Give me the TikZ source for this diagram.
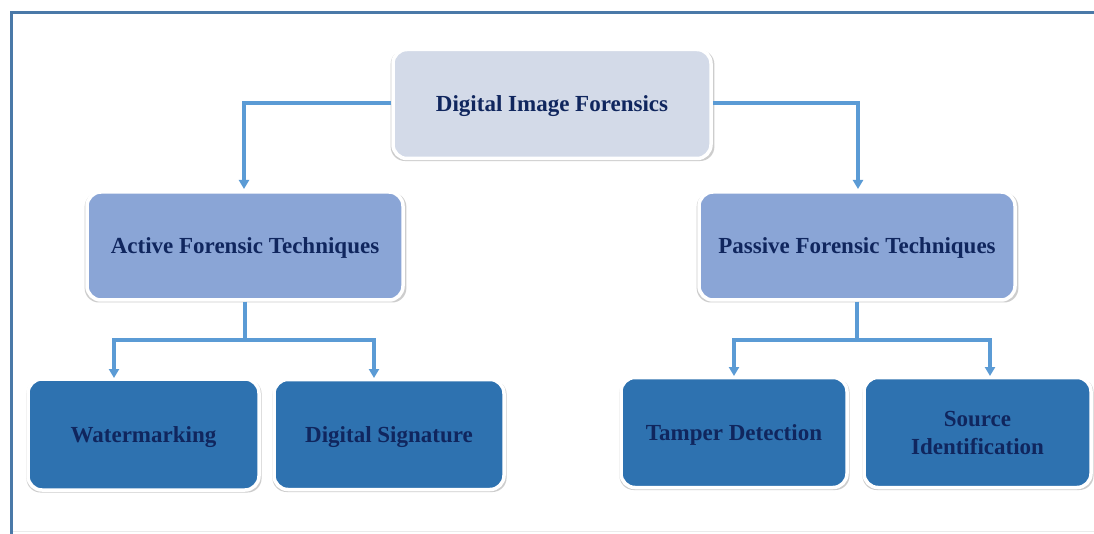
\documentclass[tikz,border=0pt]{standalone}
\usepackage{fontspec}
\setmainfont{Liberation Serif}
\usetikzlibrary{shadows,arrows.meta}
\definecolor{frameblue}{HTML}{4A79A8}
\definecolor{linkblue}{HTML}{5B9BD5}
\definecolor{rootfill}{HTML}{D3DAE8}
\definecolor{midfill}{HTML}{8AA5D6}
\definecolor{leaffill}{HTML}{2E72B0}
\definecolor{txtnavy}{HTML}{10265E}
\tikzset{
  box/.style={draw=white, line width=3.5pt, rounded corners=14pt, align=center,
    font=\bfseries\fontsize{23}{28}\selectfont, text=txtnavy, inner sep=0pt, text depth=0pt,
    drop shadow={shadow xshift=0.5pt, shadow yshift=-1.5pt, shadow scale=1.018, opacity=0.28, fill=black!70}},
  rootbox/.style={box, fill=rootfill},
  midbox/.style={box, fill=midfill},
  leafbox/.style={box, fill=leaffill},
  link/.style={draw=linkblue, line width=3.3pt},
  arr/.style={link, -{Triangle[length=9pt,width=10pt]}},
}
\begin{document}
\begin{tikzpicture}[x=1pt,y=-1pt]
\useasboundingbox (0,0) rectangle (1094,534);
\fill[white] (0,0) rectangle (1094,534);
\draw[black!8, line width=1pt] (12,531) -- (1094,531);
\draw[frameblue, line width=3pt] (11,534) -- (11,13) -- (1094,13);

\node[rootbox, minimum width=318pt, minimum height=109pt] (root) at (552,104) {Digital Image Forensics};
\node[midbox, minimum width=316pt, minimum height=108pt] (act) at (245,246) {Active Forensic Techniques};
\node[midbox, minimum width=316pt, minimum height=108pt] (pas) at (857,246) {Passive Forensic Techniques};
\node[leafbox, minimum width=231pt, minimum height=111pt] (wm) at (143.5,434.5) {Watermarking};
\node[leafbox, minimum width=230pt, minimum height=110pt] (ds) at (389,434.5) {Digital Signature};
\node[leafbox, minimum width=226pt, minimum height=110pt] (td) at (734,432.5) {Tamper Detection};
\node[leafbox, minimum width=227pt, minimum height=110pt] (si) at (977.5,432.5) {Source\\Identification};

\coordinate (actin) at (244,189);
\coordinate (pasin) at (858,189);
\draw[arr] (root.west |- 0,103) -| (actin);
\draw[arr] (root.east |- 0,103) -| (pasin);

\coordinate (aj) at (245,340);
\coordinate (pj) at (857,340);
\draw[link] (act.south) -- (aj);
\draw[link] (pas.south) -- (pj);
\draw[link] (114,340) -- (374,340);
\draw[link] (734,340) -- (990,340);
\draw[arr] (114,338.4) -- (114,378) coordinate (wmin);
\draw[arr] (374,338.4) -- (374,378) coordinate (dsin);
\draw[arr] (734,338.4) -- (734,376) coordinate (tdin);
\draw[arr] (990,338.4) -- (990,376) coordinate (siin);
\end{tikzpicture}
\end{document}
